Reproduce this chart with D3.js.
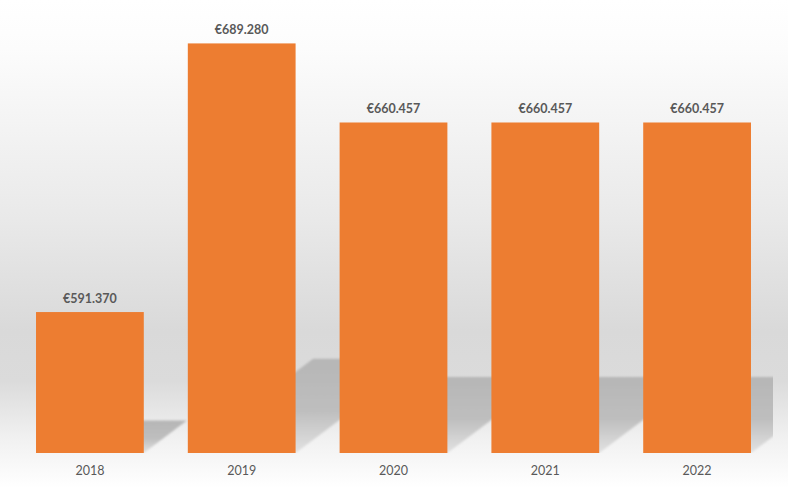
<!DOCTYPE html>
<html>
<head>
<meta charset="utf-8">
<script src="https://cdn.jsdelivr.net/npm/d3@7/dist/d3.min.js"></script>
<style>
  html, body { margin: 0; padding: 0; background: #fff; }
  svg { display: block; }
  text { font-family: Lato, "Open Sans", sans-serif; }
</style>
</head>
<body>
<svg id="chart" width="788" height="488"></svg>
<script>
// data
const years = ['2018', '2019', '2020', '2021', '2022'];
const amounts = [591370, 689280, 660457, 660457, 660457];
const yDomain = [540000, 700000];

const W = 788, H = 488;
const plot = { left: 14, right: 773, top: 14, bottom: 453 };

const svg = d3.select('#chart');
const defs = svg.append('defs');

// soft grey wash behind the plot: white, darkest near the lower third, white again at the floor
const bg = defs.append('linearGradient').attr('id', 'bgGrad').attr('x1', 0).attr('y1', 0).attr('x2', 0).attr('y2', 1);
[[0, '#ffffff'], [0.1, '#fcfcfc'], [0.45, '#e9e9e9'], [0.68, '#d9d9d9'], [0.78, '#dbdbdb'], [0.9, '#f1f1f1'], [1, '#ffffff']]
  .forEach(([o, c]) => bg.append('stop').attr('offset', o).attr('stop-color', c));

const sh = defs.append('linearGradient').attr('id', 'shadowGrad').attr('x1', 0).attr('y1', 0).attr('x2', 0).attr('y2', 1);
[[0, '#b6b6b6'], [0.55, '#bebebe'], [1, '#e2e2e2']].forEach(([o, c]) => sh.append('stop').attr('offset', o).attr('stop-color', c));
defs.append('filter').attr('id', 'soft').attr('x', '-10%').attr('y', '-10%').attr('width', '120%').attr('height', '120%')
  .append('feGaussianBlur').attr('stdDeviation', 1.2);
defs.append('clipPath').attr('id', 'plotClip').append('rect')
  .attr('x', plot.left).attr('y', 0).attr('width', plot.right - plot.left).attr('height', plot.bottom);

svg.append('rect').attr('width', W).attr('height', H).attr('fill', 'url(#bgGrad)');

const x = d3.scaleBand().domain(years).range([plot.left, plot.right]).paddingInner(0.29).paddingOuter(0.145);
const y = d3.scaleLinear().domain(yDomain).range([plot.bottom, plot.top]);

const rows = years.map((yr, i) => ({ year: yr, value: amounts[i] }));

// perspective floor shadows, sheared back to the right
const gShadow = svg.append('g').attr('clip-path', 'url(#plotClip)');
gShadow.selectAll('path').data(rows).enter().append('path')
  .attr('d', d => {
    const x0 = x(d.year), x1 = x0 + x.bandwidth(), base = y.range()[0];
    const h = base - y(d.value), s = h * 0.23, dx = s * 1.33;
    return `M${x0},${base}L${x1},${base}L${x1 + dx},${base - s}L${x0 + dx},${base - s}Z`;
  })
  .attr('fill', 'url(#shadowGrad)').attr('filter', 'url(#soft)');

svg.append('g').selectAll('rect').data(rows).enter().append('rect')
  .attr('x', d => x(d.year)).attr('width', x.bandwidth())
  .attr('y', d => y(d.value)).attr('height', d => y.range()[0] - y(d.value))
  .attr('fill', '#ed7d31');

const fmt = d3.formatLocale({ decimal: ',', thousands: '.', grouping: [3], currency: ['€', ''] }).format('$,.0f');
svg.append('g').selectAll('text').data(rows).enter().append('text')
  .attr('x', d => x(d.year) + x.bandwidth() / 2).attr('y', d => y(d.value) - 9)
  .attr('text-anchor', 'middle').attr('font-size', '12.5px').attr('font-weight', 700).attr('fill', '#595959')
  .text(d => fmt(d.value));

const xAxis = svg.append('g').attr('transform', `translate(0,${plot.bottom})`)
  .call(d3.axisBottom(x).tickSize(0).tickPadding(13));
xAxis.select('.domain').remove();
xAxis.selectAll('text').attr('font-size', '12.5px').attr('fill', '#595959').style('font-family', 'Lato, "Open Sans", sans-serif');
</script>
</body>
</html>
